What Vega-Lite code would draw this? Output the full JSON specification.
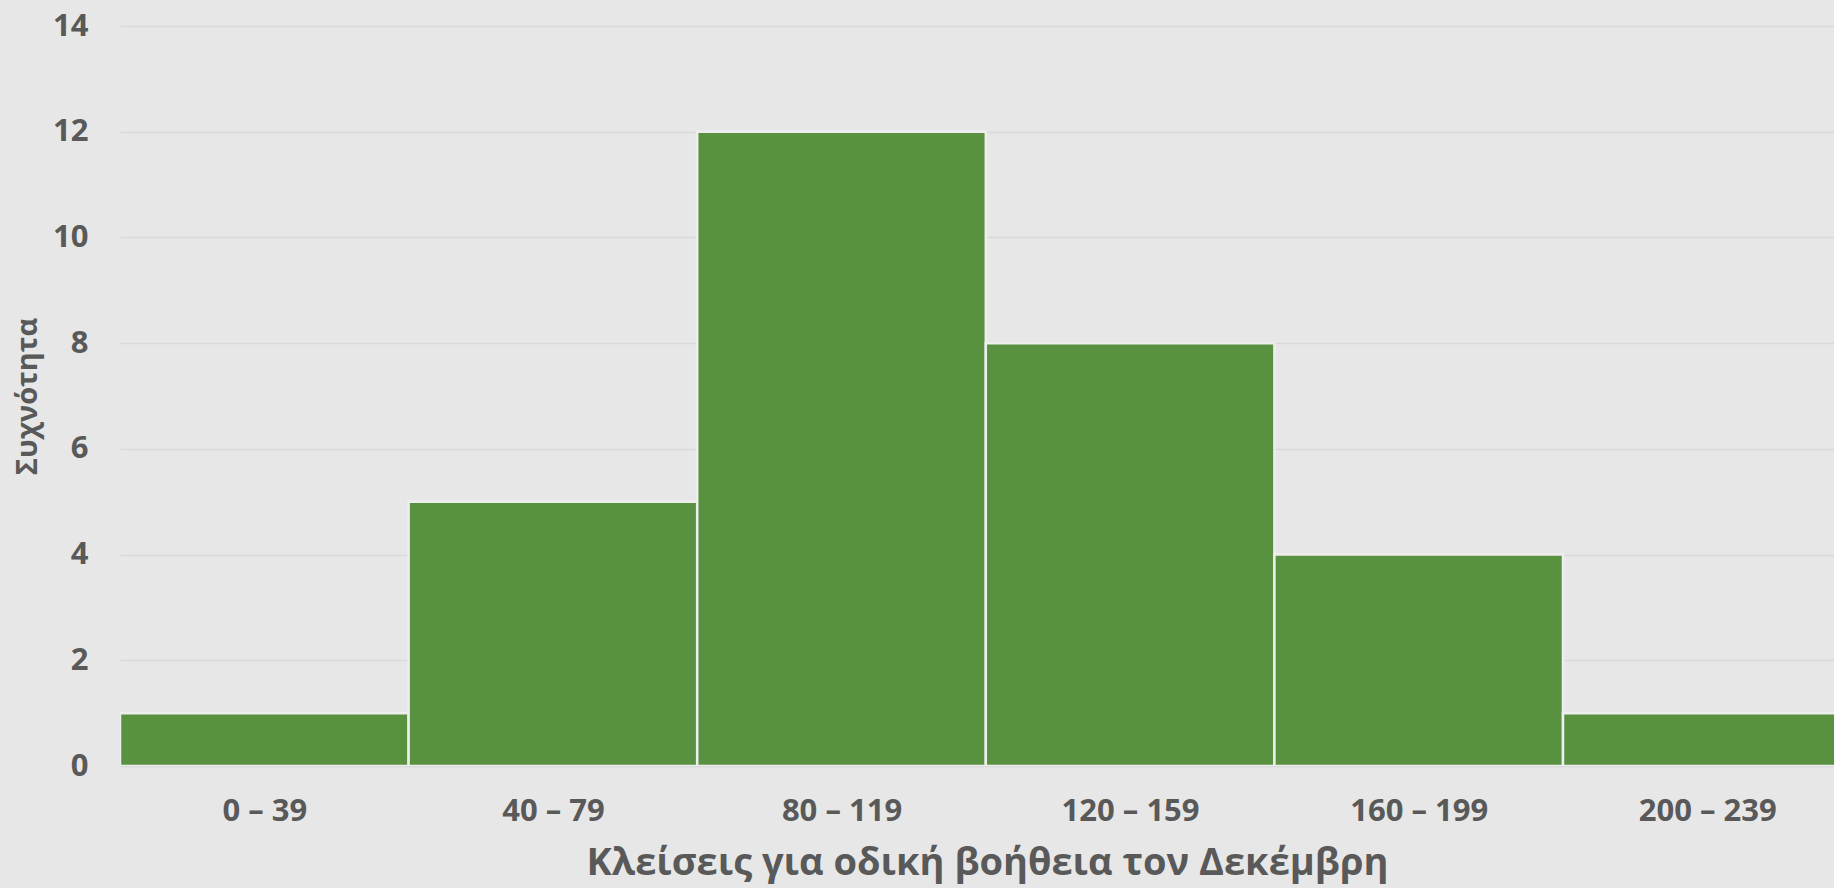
{
  "$schema": "https://vega.github.io/schema/vega-lite/v6.json",
  "autosize": {"type": "none"},
  "width": 1714,
  "height": 740,
  "padding": {"left": 120, "top": 26, "right": 0, "bottom": 122},
  "background": "#E7E7E7",
  "config": {
    "view": {"stroke": null},
    "font": "Open Sans",
    "axis": {
      "labelFont": "Open Sans",
      "titleFont": "Open Sans",
      "labelColor": "#595959",
      "titleColor": "#595959",
      "labelFontWeight": "bold",
      "titleFontWeight": "bold"
    }
  },
  "data": {
    "values": [
      {"start": 0, "end": 40, "range": "0 – 39", "count": 1},
      {"start": 40, "end": 80, "range": "40 – 79", "count": 5},
      {"start": 80, "end": 120, "range": "80 – 119", "count": 12},
      {"start": 120, "end": 160, "range": "120 – 159", "count": 8},
      {"start": 160, "end": 200, "range": "160 – 199", "count": 4},
      {"start": 200, "end": 240, "range": "200 – 239", "count": 1}
    ]
  },
  "mark": {"type": "bar", "color": "#58913F", "stroke": "#EEEEEE", "strokeWidth": 2.5, "clip": true},
  "encoding": {
    "x": {
      "field": "start",
      "type": "quantitative",
      "scale": {"domain": [0, 237.56], "nice": false, "zero": false},
      "axis": {
        "title": "Κλείσεις για οδική βοήθεια τον Δεκέμβρη",
        "values": [20, 60, 100, 140, 180, 220],
        "labelExpr": "['0 – 39','40 – 79','80 – 119','120 – 159','160 – 199','200 – 239'][floor(datum.value / 40)]",
        "ticks": false,
        "tickSize": 0,
        "grid": false,
        "domain": false,
        "labelFontSize": 31,
        "labelBaseline": "alphabetic",
        "labelPadding": 54,
        "labelAngle": 0,
        "labelOverlap": false,
        "titleFontSize": 38,
        "titleBaseline": "alphabetic",
        "titleAnchor": "start",
        "titleAlign": "center",
        "titleX": 867,
        "titleY": 108
      }
    },
    "x2": {"field": "end"},
    "y": {
      "field": "count",
      "type": "quantitative",
      "scale": {"domain": [0, 14], "nice": false},
      "axis": {
        "title": "Συχνότητα",
        "values": [0, 2, 4, 6, 8, 10, 12, 14],
        "ticks": false,
        "tickSize": 0,
        "domain": false,
        "grid": true,
        "gridColor": "#D9D9D9",
        "gridWidth": 1.3,
        "labelFontSize": 31,
        "labelPadding": 32,
        "labelAlign": "right",
        "labelBaseline": "middle",
        "titleFontSize": 29,
        "titleAngle": -90,
        "titleAlign": "center",
        "titleBaseline": "middle",
        "titleAnchor": "middle",
        "titleX": -93,
        "titleY": 370
      }
    },
    "y2": {"datum": 0}
  }
}
